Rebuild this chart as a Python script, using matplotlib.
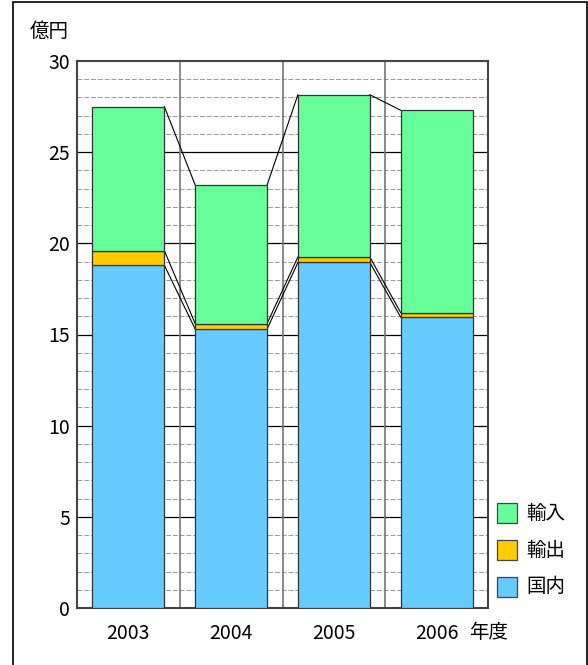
import matplotlib.pyplot as plt
from matplotlib.patches import Rectangle
import numpy as np

plt.rcParams['font.family'] = ['Noto Sans CJK JP', 'DejaVu Sans']

years = ['2003', '2004', '2005', '2006']
domestic = [18.8, 15.3, 18.95, 15.95]   # 国内
export = [0.8, 0.3, 0.3, 0.25]         # 輸出
imports = [7.9, 7.6, 8.9, 11.1]        # 輸入

series = [('国内', domestic, '#66CCFF'),
          ('輸出', export, '#FFCC00'),
          ('輸入', imports, '#66FF99')]

W, H = 588, 665
FS = 14
fig = plt.figure(figsize=(W / 100, H / 100), dpi=100)
ax = fig.add_axes([77 / W, (H - 608) / H, (488 - 77) / W, (608 - 61) / H])

x = np.arange(len(years))
bw = 0.7
bottom = np.zeros(len(years))
for name, vals, col in series:
    vals = np.array(vals)
    ax.bar(x, vals, bw, bottom=bottom, color=col, edgecolor='#333333',
           linewidth=0.9, zorder=3)
    top = bottom + vals
    # series lines between neighbouring bars
    for i in range(len(years) - 1):
        ax.plot([x[i] + bw / 2, x[i + 1] - bw / 2], [top[i], top[i + 1]],
                color='black', lw=0.8, zorder=2.5)
    bottom = top

ax.set_xlim(-0.5, len(years) - 0.5)
ax.set_ylim(0, 30)
ax.set_yticks(np.arange(0, 31, 5))
ax.set_xticks(x)
ax.set_xticklabels(years)
ax.tick_params(axis='both', which='both', length=0, labelsize=FS)
ax.tick_params(axis='y', pad=5)
ax.tick_params(axis='x', pad=11)

for v in np.arange(1, 30):
    if v % 5:
        ax.axhline(v, color='#999999', lw=0.7, ls=(0, (5, 2)), zorder=1)
    else:
        ax.axhline(v, color='black', lw=0.9, zorder=1)
for b in x[:-1] + 0.5:
    ax.axvline(b, color='#777777', lw=1.2, zorder=1)

for s in ax.spines.values():
    s.set_color('#444444')
    s.set_linewidth(1.5)

fig.text(49 / W, 1 - 31 / H, '億円', ha='center', va='center', fontsize=FS)
fig.text(489 / W, 1 - 632 / H, '年度', ha='center', va='center', fontsize=FS)

# legend, top series first
for k, (name, vals, col) in enumerate(reversed(series)):
    yc = 513 + k * 37
    fig.patches.append(Rectangle((497 / W, 1 - (yc + 10) / H), 20 / W, 20 / H,
                                 transform=fig.transFigure, facecolor=col,
                                 edgecolor='#444444', lw=0.9))
    fig.text(526 / W, 1 - yc / H, name, ha='left', va='center', fontsize=FS)

# outer frame
fig.patches.append(Rectangle((13 / W, -0.01), (586.5 - 13) / W, 1.01 - 1.5 / H,
                             transform=fig.transFigure, fill=False,
                             edgecolor='black', lw=1.2))

fig.savefig('out.png', dpi=100)
